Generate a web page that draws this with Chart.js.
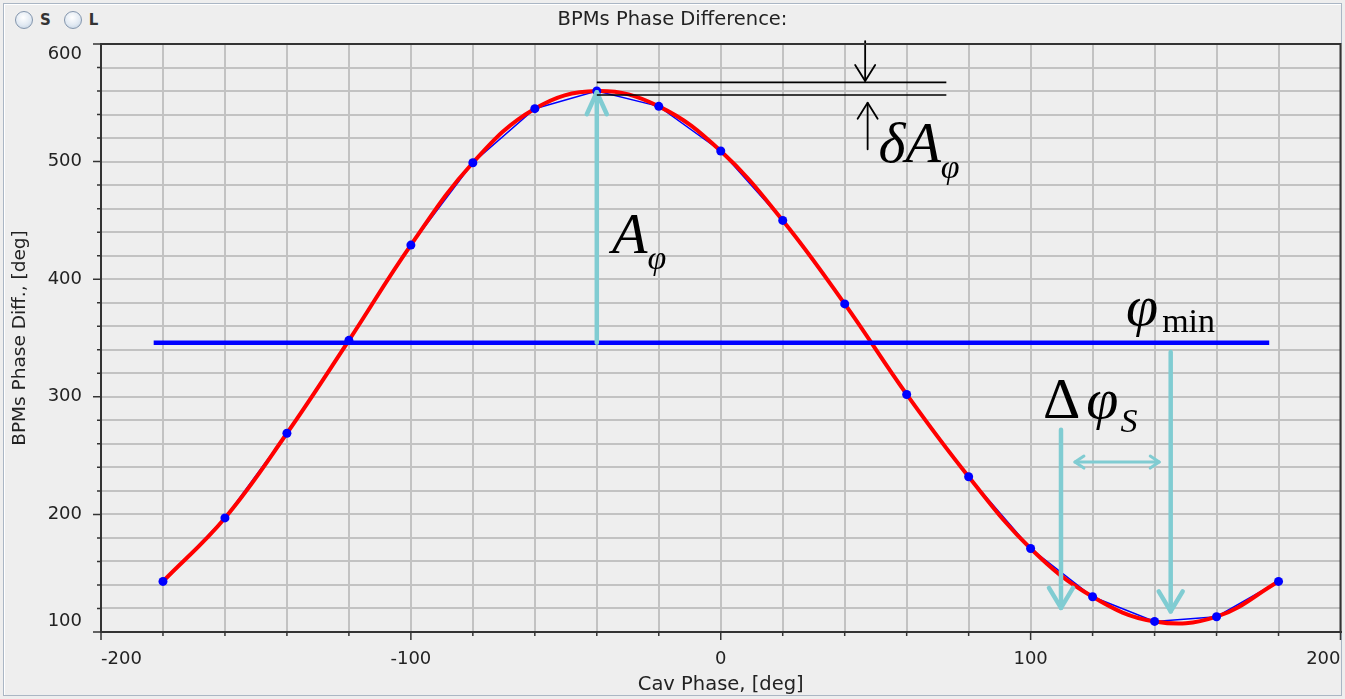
<!DOCTYPE html>
<html>
<head>
<meta charset="utf-8">
<title>BPMs Phase Difference</title>
<script src="https://cdn.jsdelivr.net/npm/chart.js@4.4.1/dist/chart.umd.min.js"></script>
<style>
  html, body { margin: 0; padding: 0; background: #eeeeee; }
  #panel { position: relative; width: 1345px; height: 699px; overflow: hidden; }
  #frame { position: absolute; left: 3px; top: 3px; width: 1337px; height: 691px;
           border: 1px solid #aab6c4; box-shadow: inset 1px 1px 0 #ffffff; }
  #plot { position: absolute; left: 0; top: 0; }
  .radios { position: absolute; left: 15px; top: 11px; display: flex; align-items: center;
            font: bold 15px "DejaVu Sans", sans-serif; color: #333; }
  .radios label { display: flex; align-items: center; margin-right: 13px; }
  .radio { width: 16px; height: 16px; border-radius: 50%; border: 1px solid #8496ad; margin-right: 7px;
           background: radial-gradient(circle at 45% 35%, #ffffff 0%, #e2eaf3 55%, #b9cadc 100%); }
</style>
</head>
<body>
<div id="panel">
  <div id="frame"></div>
  <div class="radios">
    <label><span class="radio"></span>S</label>
    <label><span class="radio"></span>L</label>
  </div>
  <canvas id="plot" width="1345" height="699"></canvas>
</div>
<script>
// measured points (cavity phase vs BPM phase difference)
const cavPhase = [-180, -160, -140, -120, -100, -80, -60, -40, -20, 0, 20, 40, 60, 80, 100, 120, 140, 160, 180];
const bpmPhaseDiff = [143, 197, 269, 348, 429, 499, 545, 560, 547, 509, 450, 379, 302, 232, 171, 130, 109, 113, 143];

// phi_min level line
const phiMinPhase = [-183, 177];
const phiMinLevel = [346, 346];

// labelled ticks
const xTickLabels = [-200, -100, 0, 100, 200];
const yTickLabels = [100, 200, 300, 400, 500, 600];

const points = cavPhase.map((x, i) => ({ x: x, y: bpmPhaseDiff[i] }));
const phiMinLine = phiMinPhase.map((x, i) => ({ x: x, y: phiMinLevel[i] }));

const uiFont = 'DejaVu Sans';
const mathFont = 'Liberation Serif';
const cyan = '#80ccd2';

// arrow with open chevron heads
function arrow(ctx, x1, y1, x2, y2, color, width, headLen, headHalf, both) {
  ctx.save();
  ctx.strokeStyle = color;
  ctx.lineWidth = width;
  ctx.lineCap = 'round';
  ctx.lineJoin = 'round';
  ctx.beginPath();
  ctx.moveTo(x1, y1);
  ctx.lineTo(x2, y2);
  ctx.stroke();
  const head = (tx, ty, fx, fy) => {
    const a = Math.atan2(ty - fy, tx - fx);
    const bx = tx - headLen * Math.cos(a), by = ty - headLen * Math.sin(a);
    const nx = -Math.sin(a) * headHalf, ny = Math.cos(a) * headHalf;
    ctx.beginPath();
    ctx.moveTo(bx + nx, by + ny);
    ctx.lineTo(tx, ty);
    ctx.lineTo(bx - nx, by - ny);
    ctx.stroke();
  };
  head(x2, y2, x1, y1);
  if (both) head(x1, y1, x2, y2);
  ctx.restore();
}

// main text with a subscript after it
function subText(ctx, x, y, main, mainFont, sub, subFont, dx, dy) {
  ctx.font = mainFont;
  ctx.fillText(main, x, y);
  const w = ctx.measureText(main).width;
  ctx.font = subFont;
  ctx.fillText(sub, x + w + dx, y + dy);
}

// axis frame and outward tick marks, like the old java plot panel
const framePlugin = {
  id: 'frameTicks',
  afterDraw(chart) {
    const ctx = chart.ctx;
    const a = chart.chartArea;
    const xs = chart.scales.x, ys = chart.scales.y;
    ctx.save();
    ctx.strokeStyle = '#333';
    ctx.lineWidth = 2;
    ctx.strokeRect(a.left, a.top, a.right - a.left, a.bottom - a.top);
    ctx.lineWidth = 1.5;
    ctx.beginPath();
    xs.ticks.forEach(t => {
      const v = Math.round(t.value);
      const p = xs.getPixelForValue(v);
      const len = xTickLabels.includes(v) ? 8 : 4;
      ctx.moveTo(p, a.bottom);
      ctx.lineTo(p, a.bottom + len);
    });
    ys.ticks.forEach(t => {
      const v = Math.round(t.value);
      const p = ys.getPixelForValue(v);
      const len = yTickLabels.includes(v) ? 8 : 4;
      ctx.moveTo(a.left, p);
      ctx.lineTo(a.left - len, p);
    });
    ctx.stroke();
    ctx.restore();
  }
};

// slide annotations (arrows and symbols), placed in data units
const annotationPlugin = {
  id: 'annotations',
  afterDatasetsDraw(chart) {
    const ctx = chart.ctx;
    const X = v => chart.scales.x.getPixelForValue(v);
    const Y = v => chart.scales.y.getPixelForValue(v);
    ctx.save();

    // amplitude arrow
    arrow(ctx, X(-40), Y(346), X(-40), Y(559), cyan, 4.5, 22, 10, false);

    // delta A lines
    ctx.strokeStyle = '#000';
    ctx.lineWidth = 1.6;
    ctx.beginPath();
    ctx.moveTo(X(-40), Y(567.4));
    ctx.lineTo(X(72.8), Y(567.4));
    ctx.moveTo(X(-40), Y(556.6));
    ctx.lineTo(X(72.8), Y(556.6));
    ctx.stroke();
    arrow(ctx, X(46.6), Y(602.5), X(46.6), Y(568.6), '#000', 1.8, 16, 10, false);
    arrow(ctx, X(47.4), Y(510.5), X(47.4), Y(550), '#000', 1.8, 16, 10, false);

    // phase shift arrows
    arrow(ctx, X(109.8), Y(272), X(109.8), Y(120.5), cyan, 4.5, 20, 12, false);
    arrow(ctx, X(145.2), Y(338), X(145.2), Y(117.5), cyan, 4.5, 20, 12, false);
    arrow(ctx, X(114.3), Y(244.5), X(141.5), Y(244.5), cyan, 3, 9, 6, true);

    // symbols
    ctx.fillStyle = '#000';
    ctx.textBaseline = 'alphabetic';
    ctx.textAlign = 'left';
    subText(ctx, X(-35.1), Y(422.3), 'A', 'italic 58px "' + mathFont + '"', 'φ', 'italic 34px "' + mathFont + '"', 0, 16);
    subText(ctx, X(50.9), Y(499.7), 'δA', 'italic 58px "' + mathFont + '"', 'φ', 'italic 34px "' + mathFont + '"', 0, 16);
    subText(ctx, X(130.8), Y(361), 'φ', 'italic 58px "' + mathFont + '"', 'min', '34px "' + mathFont + '"', 4, 7);
    ctx.font = '58px "' + mathFont + '"';
    ctx.fillText('Δ', X(104), Y(282));
    const dw = ctx.measureText('Δ').width;
    subText(ctx, X(104) + dw + 6, Y(282), 'φ', 'italic 58px "' + mathFont + '"', 'S', 'italic 34px "' + mathFont + '"', 2, 14);
    ctx.restore();
  }
};

new Chart(document.getElementById('plot'), {
  type: 'line',
  data: {
    datasets: [
      { data: points, borderColor: '#0000ff', borderWidth: 1.5, pointRadius: 0, tension: 0, order: 4 },
      { data: points, borderColor: '#ff0000', borderWidth: 4, pointRadius: 0, tension: 0.4, order: 3 },
      { data: points, showLine: false, pointRadius: 4.5, pointBackgroundColor: '#0000ff', pointBorderWidth: 0, order: 1 },
      { data: phiMinLine, borderColor: '#0000ff', borderWidth: 4.5, pointRadius: 0, order: 2 }
    ]
  },
  options: {
    responsive: false,
    animation: false,
    layout: { padding: { left: 0, right: 0, top: 0, bottom: 0 } },
    plugins: {
      legend: { display: false },
      tooltip: { enabled: false },
      title: {
        display: true,
        text: 'BPMs Phase Difference:',
        color: '#222',
        font: { family: uiFont, size: 19.5, weight: 'normal' },
        padding: { top: 8, bottom: 12.6 }
      }
    },
    scales: {
      x: {
        type: 'linear',
        min: -200,
        max: 200,
        grid: { color: '#c2c2c2', lineWidth: 2, drawTicks: true, tickLength: 17, tickColor: 'rgba(0,0,0,0)' },
        border: { color: '#333', width: 2 },
        ticks: {
          stepSize: 20,
          autoSkip: false,
          maxRotation: 0,
          align: 'inner',
          padding: 0,
          color: '#222',
          font: { family: uiFont, size: 18 },
          callback: v => xTickLabels.includes(Math.round(v)) ? String(Math.round(v)) : ''
        },
        title: {
          display: true,
          text: 'Cav Phase, [deg]',
          color: '#222',
          font: { family: uiFont, size: 19.5 },
          padding: { top: 0, bottom: 2 }
        },
        afterFit: s => { s.height = 67; }
      },
      y: {
        min: 100,
        max: 600,
        grid: { color: '#c2c2c2', lineWidth: 2, drawTicks: true, tickLength: 19, tickColor: 'rgba(0,0,0,0)' },
        border: { color: '#333', width: 2 },
        ticks: {
          stepSize: 20,
          autoSkip: false,
          padding: 0,
          color: '#222',
          font: { family: uiFont, size: 18 },
          callback: v => {
            const r = Math.round(v);
            if (!yTickLabels.includes(r)) return '';
            if (r === yTickLabels[yTickLabels.length - 1]) return ['', String(r)];
            if (r === yTickLabels[0]) return [String(r), ''];
            return String(r);
          }
        },
        title: {
          display: true,
          text: 'BPMs Phase Diff., [deg]',
          color: '#222',
          font: { family: uiFont, size: 18.5 },
          padding: { top: 9, bottom: 0 }
        },
        afterFit: s => { s.width = 101; }
      }
    }
  },
  plugins: [framePlugin, annotationPlugin]
});
</script>
</body>
</html>
